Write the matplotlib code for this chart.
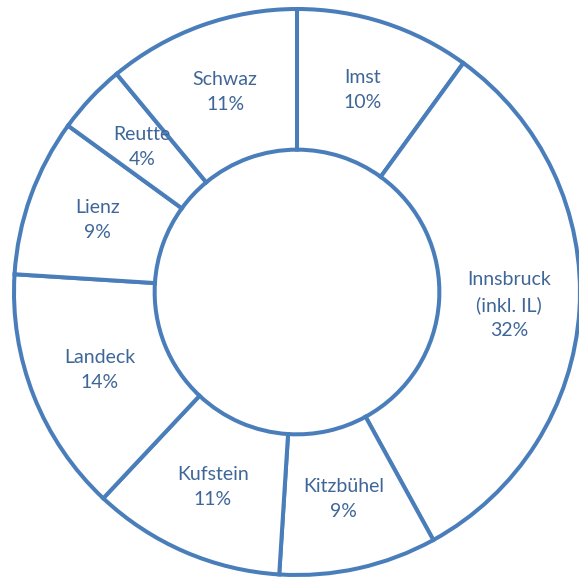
import numpy as np
import matplotlib
matplotlib.use("Agg")
import matplotlib.pyplot as plt

# Share of each district (percent), clockwise from the top
districts = ["Imst", "Innsbruck\n(inkl. IL)", "Kitzbühel", "Kufstein",
             "Landeck", "Lienz", "Reutte", "Schwaz"]
shares = [10, 32, 9, 11, 14, 9, 4, 11]

edge_color = "#4A7EBB"
text_color = "#3F6698"

fig = plt.figure(figsize=(5.79, 5.77), dpi=100)
ax = fig.add_axes([14 / 579, 2 / 577, 566 / 579, 566 / 577])

wedges, _ = ax.pie(
    shares,
    startangle=90,
    counterclock=False,
    radius=1.0,
    colors=["white"] * len(shares),
    wedgeprops=dict(width=0.497, edgecolor=edge_color, linewidth=2.9,
                    clip_on=False),
)

# Label each ring segment at the middle of its band
for w, name, val in zip(wedges, districts, shares):
    ang = np.deg2rad((w.theta1 + w.theta2) / 2)
    r = 0.75
    ax.text(r * np.cos(ang), r * np.sin(ang), f"{name}\n{val}%",
            ha="center", va="center", color=text_color,
            fontsize=14, family="Lato", linespacing=1.55)

ax.set_xlim(-1, 1)
ax.set_ylim(-1, 1)
ax.axis("off")

fig.savefig("out.png", dpi=100)
